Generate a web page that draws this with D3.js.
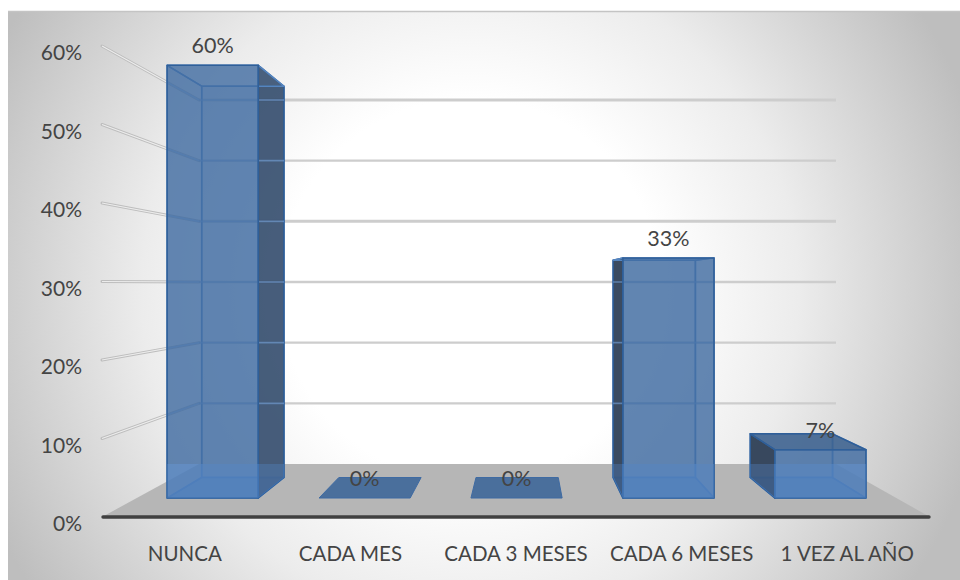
<!DOCTYPE html>
<html><head><meta charset="utf-8">
<style>html,body{margin:0;padding:0;background:#fff}svg{display:block}text{font-family:Lato,"Open Sans",sans-serif}</style>
<script src="https://cdn.jsdelivr.net/npm/d3@7"></script></head><body><svg id="c" width="960" height="580"></svg>
<script>
const categories=["NUNCA","CADA MES","CADA 3 MESES","CADA 6 MESES","1 VEZ AL AÑO"];
const values=[60,0,0,33.3,6.7];
const labels=["60%","0%","0%","33%","7%"];
const tickValues=[0,10,20,30,40,50,60];

const svg=d3.select("#c");
const defs=svg.append("defs");
const bg=defs.append("radialGradient").attr("id","bg").attr("gradientUnits","userSpaceOnUse")
  .attr("cx",470).attr("cy",290).attr("r",530);
[[0,"#ffffff"],[.36,"#ffffff"],[.62,"#ececec"],[1,"#bebebe"]].forEach(s=>bg.append("stop").attr("offset",s[0]).attr("stop-color",s[1]));

// plane scales: t = 0 front edge of the floor, t = 1 back wall
const yFront=d3.scaleLinear().domain([0,60]).range([517,46]);
const yBack=d3.scaleLinear().domain([0,60]).range([464,100]);
const xL=d3.scaleLinear().domain([0,1]).range([102,199]);
const xR=d3.scaleLinear().domain([0,1]).range([930,836]);
const band=t=>d3.scaleBand().domain(categories).range([xL(t),xR(t)]).paddingInner(.4).paddingOuter(.2);
const py=(v,t)=>d3.interpolateNumber(yFront(v),yBack(v))(t);
const T1=.358,T2=.745;
const line=d3.line();

svg.append("rect").attr("x",8).attr("y",11).attr("width",952).attr("height",569).attr("fill","url(#bg)");
svg.append("line").attr("x1",8).attr("x2",960).attr("y1",11.5).attr("y2",11.5).attr("stroke","#c4c4c4").attr("stroke-width",1.5);

// floor
svg.append("path").attr("d",line([[xL(0),517],[xL(1),464],[xR(1),464],[xR(0),517]])+"Z").attr("fill","#b6b6b6");

// grid lines on wall
const gv=tickValues.filter(d=>d>0);
const wallPts=v=>[[xL(0),yFront(v)],[xL(1),yBack(v)],[xR(1),yBack(v)]];
gv.forEach(v=>{
  const p=wallPts(v);
  svg.append("path").attr("d",line(p.slice(1))).attr("fill","none").attr("stroke","#cdcdcd").attr("stroke-width",v===60||v===40?3:2.4);
  svg.append("path").attr("d",line(p.slice(0,2))).attr("fill","none").attr("stroke","#bdbdbd").attr("stroke-width",3).attr("stroke-linecap","round");
  svg.append("path").attr("d",line(p.slice(0,2))).attr("fill","none").attr("stroke","#ececec").attr("stroke-width",1.2);
});

// bars
const blue="#3f6ea8",edge="#2f5f99",inner="#5585c0";
categories.forEach((c,i)=>{
  const v=values[i];
  const a=band(T1),b=band(T2);
  const x0=a(c),x1=x0+a.bandwidth(),x2=b(c),x3=x2+b.bandwidth();
  const f0=py(0,T1),f1=py(v,T1),b0=py(0,T2),b1=py(v,T2);
  const g=svg.append("g");
  const face=(pts,fill,op,st,w)=>g.append("path").attr("d",line(pts)+"Z").attr("fill",fill).attr("fill-opacity",op)
     .attr("stroke",st||edge).attr("stroke-width",w||1.5).attr("stroke-linejoin","round");
  if(v===0){ face([[x0,f0],[x2,b0],[x3,b0],[x1,f0]],"#4a6f9c",1,"#3f6ba3",1); return; }
  const leftVisible=x2<x0, rightVisible=x3>x1, topVisible=b1<f1;
  face([[x2,b0],[x3,b0],[x3,b1],[x2,b1]],blue,.2,inner);
  face([[x0,f0],[x1,f0],[x3,b0],[x2,b0]],"#4f84c8",.55,inner);
  if(leftVisible) face([[x0,f0],[x2,b0],[x2,b1],[x0,f1]],"#1f3048",.85);
  else face([[x0,f0],[x2,b0],[x2,b1],[x0,f1]],blue,.12,inner);
  if(rightVisible) face([[x1,f0],[x3,b0],[x3,b1],[x1,f1]],"#2f4768",.86);
  else face([[x1,f0],[x3,b0],[x3,b1],[x1,f1]],blue,.12,inner);
  if(topVisible) face([[x0,f1],[x1,f1],[x3,b1],[x2,b1]],"#3a5f8d",.85);
  else face([[x0,f1],[x1,f1],[x3,b1],[x2,b1]],blue,.08,inner);

  const sil=d3.polygonHull([[x0,f0],[x1,f0],[x1,f1],[x0,f1],[x2,b0],[x3,b0],[x3,b1],[x2,b1]]);
  const clipId="clip"+i;
  defs.append("clipPath").attr("id",clipId).append("path").attr("d",line(sil)+"Z");
  // wall grid lines showing through the bar
  gv.forEach(w=>{
    g.append("path").attr("d",line(wallPts(w))).attr("fill","none").attr("stroke","#7aa6de").attr("stroke-opacity",.6)
     .attr("stroke-width",1.6).attr("clip-path",`url(#${clipId})`);
  });
  face([[x0,f0],[x1,f0],[x1,f1],[x0,f1]],"#3f6aa0",.78);
  // lighter tint where the bar crosses the floor
  g.append("rect").attr("x",Math.min(x0,x2)).attr("width",Math.max(x1,x3)-Math.min(x0,x2))
    .attr("y",yBack(0)).attr("height",f0-yBack(0)).attr("fill","#6aa6f2").attr("fill-opacity",.28).attr("clip-path",`url(#${clipId})`);
});

// axis baseline
svg.append("line").attr("x1",xL(0)+1).attr("x2",xR(0)-1).attr("y1",517).attr("y2",517)
  .attr("stroke","#404040").attr("stroke-width",3.4).attr("stroke-linecap","round");

// axes
const axY=svg.append("g").attr("transform","translate(82,6)")
  .call(d3.axisLeft(yFront).tickValues(tickValues).tickSize(0).tickPadding(0).tickFormat(d=>d+"%"));
axY.select(".domain").remove();
axY.selectAll("text").attr("fill","#444").style("font-size","21px").attr("dy",".36em").attr("x",0);
const catScale=d3.scaleBand().domain(categories).range([xL(0),xR(0)]);
const axX=svg.append("g").attr("transform","translate(0,517)")
  .call(d3.axisBottom(catScale).tickSize(0).tickPadding(0));
axX.select(".domain").remove();
axX.selectAll("text").attr("fill","#444").style("font-size","20.5px").attr("y",44).attr("dy",0);

// data labels
const a=band(T1);
svg.append("g").selectAll("text").data(categories).join("text")
  .attr("x",c=>a(c)+a.bandwidth()/2)
  .attr("y",(c,i)=>py(values[i],T1)-12)
  .attr("text-anchor","middle").attr("fill","#444").style("font-size","21.5px")
  .text((c,i)=>labels[i]);
</script></body></html>
